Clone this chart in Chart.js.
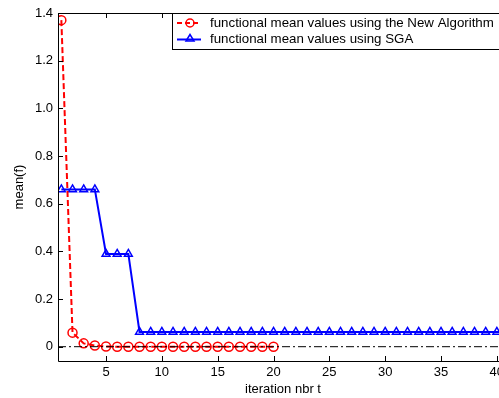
<!DOCTYPE html>
<html>
<head>
<meta charset="utf-8">
<script src="https://cdn.jsdelivr.net/npm/chart.js@4/dist/chart.umd.min.js"></script>
<style>
  html, body { margin: 0; padding: 0; background: #fff; overflow: hidden; }
  #wrap { width: 499px; height: 398px; overflow: hidden; }
</style>
</head>
<body>
<div id="wrap"><canvas id="myChart" width="520" height="398"></canvas></div>
<script>
// iteration index
const iterNew = [1, 2, 3, 4, 5, 6, 7, 8, 9, 10, 11, 12, 13, 14, 15, 16, 17, 18, 19, 20];
const meanNew = [1.37, 0.059, 0.014, 0.005, 0.001, 0, 0, 0, 0, 0, 0, 0, 0, 0, 0, 0, 0, 0, 0, 0];

const iterSGA = [1, 2, 3, 4, 5, 6, 7, 8, 9, 10, 11, 12, 13, 14, 15, 16, 17, 18, 19, 20,
  21, 22, 23, 24, 25, 26, 27, 28, 29, 30, 31, 32, 33, 34, 35, 36, 37, 38, 39, 40, 41];
const meanSGA = [0.66, 0.66, 0.66, 0.66, 0.389, 0.389, 0.389, 0.062, 0.062, 0.062,
  0.062, 0.062, 0.062, 0.062, 0.062, 0.062, 0.062, 0.062, 0.062, 0.062,
  0.062, 0.062, 0.062, 0.062, 0.062, 0.062, 0.062, 0.062, 0.062, 0.062,
  0.062, 0.062, 0.062, 0.062, 0.062, 0.062, 0.062, 0.062, 0.062, 0.062, 0.062];

const zeroLineX = [0.7, 41];
const zeroLineY = [0, 0];

const xTicks = [5, 10, 15, 20, 25, 30, 35, 40];
const yTicks = [0, 0.2, 0.4, 0.6, 0.8, 1, 1.2, 1.4];

const legendLabels = ['functional mean values using the New Algorithm', 'functional mean values using SGA'];

const FONT = 'Arial, "Liberation Sans", sans-serif';

function pts(xs, ys) {
  return xs.map((x, i) => ({x: x, y: ys[i]}));
}

// matlab style box, inside ticks and legend
const matlabAxes = {
  id: 'matlabAxes',
  afterDatasetsDraw(chart) {
    const {ctx, chartArea: a, scales} = chart;
    ctx.save();
    ctx.strokeStyle = '#000';
    ctx.lineWidth = 1;
    ctx.beginPath();
    ctx.rect(Math.round(a.left) + 0.5, Math.round(a.top) + 0.5,
      Math.round(a.right - a.left), Math.round(a.bottom - a.top));
    xTicks.forEach(v => {
      const px = Math.round(scales.x.getPixelForValue(v)) + 0.5;
      ctx.moveTo(px, a.bottom); ctx.lineTo(px, a.bottom - 5);
      ctx.moveTo(px, a.top); ctx.lineTo(px, a.top + 5);
    });
    yTicks.forEach(v => {
      const py = Math.round(scales.y.getPixelForValue(v)) + 0.5;
      ctx.moveTo(a.left, py); ctx.lineTo(a.left + 5, py);
      ctx.moveTo(a.right, py); ctx.lineTo(a.right - 5, py);
    });
    ctx.stroke();

    // legend box
    const lx = 172.5, ly = 13.5, lw = 333, lh = 36;
    ctx.fillStyle = '#fff';
    ctx.fillRect(lx, ly, lw, lh);
    ctx.strokeRect(lx, ly, lw, lh);

    const rows = [
      {y: 23, color: '#ff0000', dash: [5, 3], marker: 'circle'},
      {y: 39.5, color: '#0000ff', dash: [], marker: 'triangle'}
    ];
    rows.forEach((r, i) => {
      ctx.strokeStyle = r.color;
      ctx.lineWidth = 2;
      ctx.setLineDash(r.dash);
      ctx.beginPath();
      ctx.moveTo(177, r.y); ctx.lineTo(201, r.y);
      ctx.stroke();
      ctx.setLineDash([]);
      ctx.lineWidth = 1.5;
      ctx.beginPath();
      if (r.marker === 'circle') {
        ctx.arc(190, r.y, 4, 0, Math.PI * 2);
      } else {
        ctx.moveTo(190, r.y - 5);
        ctx.lineTo(186, r.y + 1.5);
        ctx.lineTo(194, r.y + 1.5);
        ctx.closePath();
      }
      ctx.stroke();
      ctx.fillStyle = '#000';
      ctx.font = '13.3px ' + FONT;
      ctx.textBaseline = 'middle';
      ctx.textAlign = 'left';
      ctx.fillText(legendLabels[i], 210, r.y);
    });
    ctx.restore();
  }
};

new Chart(document.getElementById('myChart'), {
  type: 'line',
  data: {
    datasets: [{
      label: 'zero',
      data: pts(zeroLineX, zeroLineY),
      borderColor: '#000',
      borderWidth: 1,
      borderDash: [8, 3, 2, 3],
      pointRadius: 0,
      order: 0
    }, {
      label: legendLabels[0],
      data: pts(iterNew, meanNew),
      borderColor: '#ff0000',
      borderWidth: 2,
      borderDash: [6, 3],
      pointStyle: 'circle',
      pointRadius: 4.5,
      pointBorderWidth: 1.5,
      pointBackgroundColor: 'rgba(0,0,0,0)',
      pointBorderColor: '#ff0000',
      order: 1
    }, {
      label: legendLabels[1],
      data: pts(iterSGA, meanSGA),
      borderColor: '#0000ff',
      borderWidth: 2,
      pointStyle: 'triangle',
      pointRadius: 4.5,
      pointBorderWidth: 1.5,
      pointBackgroundColor: 'rgba(0,0,0,0)',
      pointBorderColor: '#0000ff',
      order: 2
    }]
  },
  options: {
    responsive: false,
    animation: false,
    layout: { padding: { left: 0, top: 13, right: 12, bottom: 0 } },
    plugins: { legend: { display: false }, tooltip: { enabled: false } },
    scales: {
      x: {
        type: 'linear',
        min: 0.7,
        max: 41,
        afterBuildTicks: s => { s.ticks = xTicks.map(v => ({value: v})); },
        afterFit: s => { s.height = 37; },
        grid: { display: false, drawTicks: false },
        border: { display: false },
        ticks: { color: '#000', font: { family: FONT, size: 13 }, padding: 4, maxRotation: 0 },
        title: { display: true, text: 'iteration nbr t', color: '#000',
          font: { family: FONT, size: 13 }, padding: { top: 0, bottom: 1 } }
      },
      y: {
        type: 'linear',
        min: -0.06,
        max: 1.4,
        afterBuildTicks: s => { s.ticks = yTicks.map(v => ({value: v})); },
        afterFit: s => { s.width = 58; },
        grid: { display: false, drawTicks: false },
        border: { display: false },
        ticks: { color: '#000', font: { family: FONT, size: 13 }, padding: 5 },
        title: { display: true, text: 'mean(f)', color: '#000',
          font: { family: FONT, size: 13 }, padding: { top: 12, bottom: 0 } }
      }
    }
  },
  plugins: [matlabAxes]
});
</script>
</body>
</html>
